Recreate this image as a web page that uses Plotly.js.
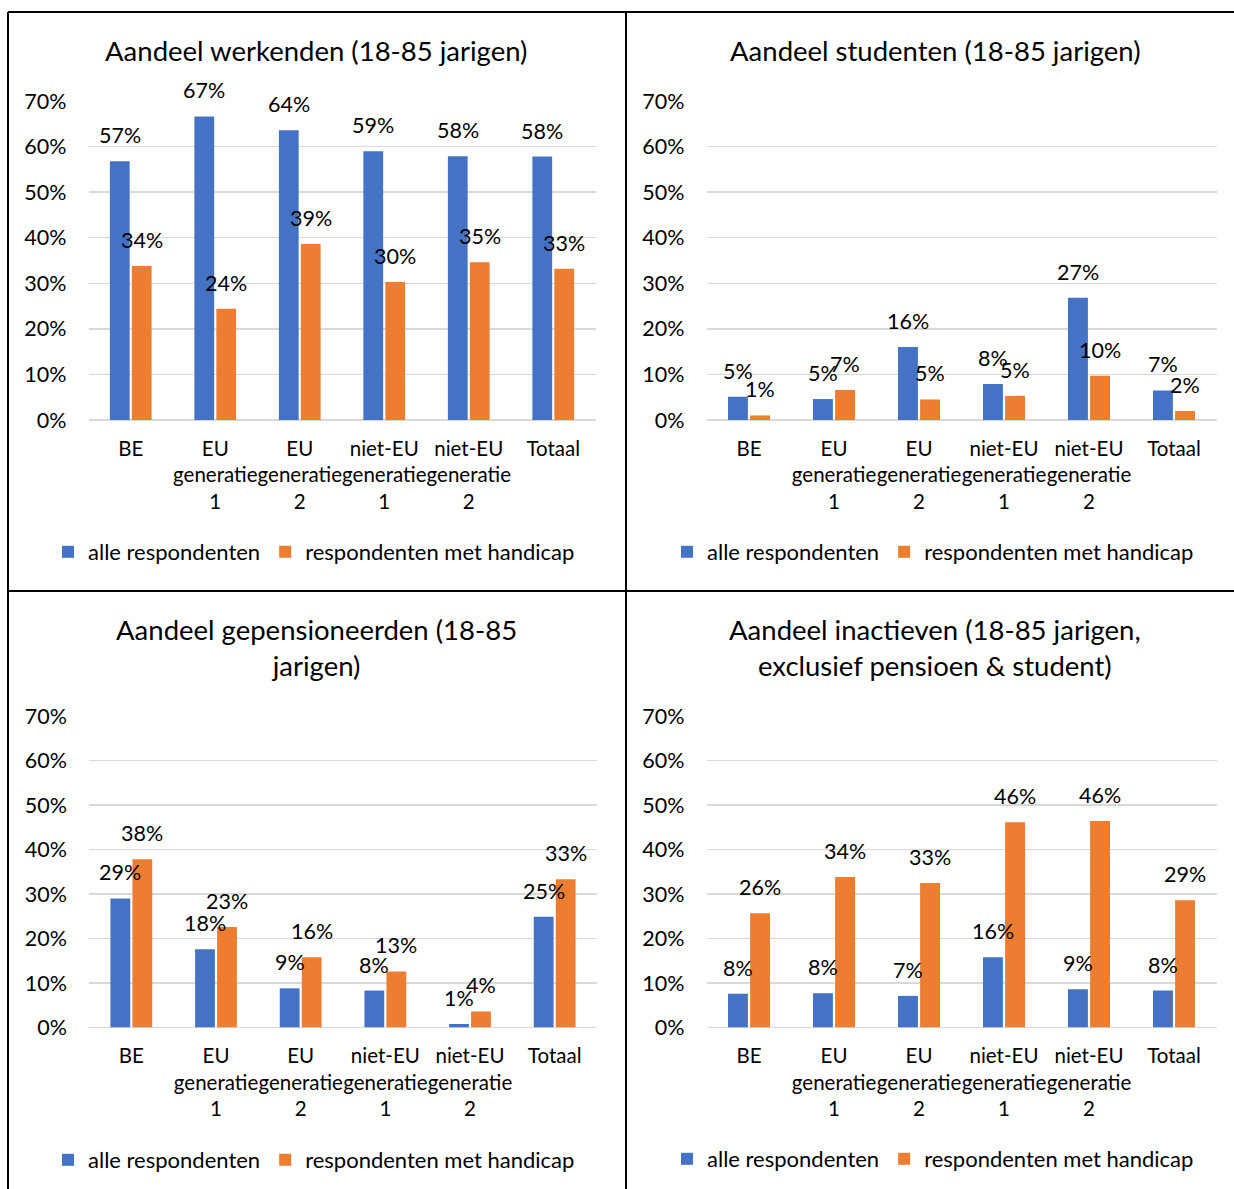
<!DOCTYPE html>
<html>
<head>
<meta charset="utf-8">
<script src="https://cdn.plot.ly/plotly-3.0.1.min.js"></script>
<style>
  html, body { margin: 0; padding: 0; background: #fff; }
  #chart { width: 1234px; height: 1189px; }
</style>
</head>
<body>
<div id="chart"></div>
<script>
// ---- data ----
const categories = ['BE', 'EU<br>generatie<br>1', 'EU<br>generatie<br>2', 'niet-EU<br>generatie<br>1', 'niet-EU<br>generatie<br>2', 'Totaal'];
const seriesNames = ['alle respondenten', 'respondenten met handicap'];
const yTickVals = [0, 0.1, 0.2, 0.3, 0.4, 0.5, 0.6, 0.7];

const werkenden_alle = [0.568, 0.666, 0.636, 0.590, 0.579, 0.578];
const werkenden_handicap = [0.338, 0.244, 0.386, 0.303, 0.346, 0.332];
const studenten_alle = [0.051, 0.046, 0.160, 0.079, 0.268, 0.065];
const studenten_handicap = [0.010, 0.066, 0.045, 0.053, 0.097, 0.020];
const gepensioneerden_alle = [0.290, 0.176, 0.088, 0.083, 0.008, 0.249];
const gepensioneerden_handicap = [0.378, 0.226, 0.158, 0.126, 0.036, 0.333];
const inactieven_alle = [0.076, 0.077, 0.071, 0.158, 0.086, 0.083];
const inactieven_handicap = [0.257, 0.338, 0.325, 0.461, 0.464, 0.286];

const titles = [
  'Aandeel werkenden (18-85 jarigen)',
  'Aandeel studenten (18-85 jarigen)',
  'Aandeel gepensioneerden (18-85<br>jarigen)',
  'Aandeel inactieven (18-85 jarigen,<br>exclusief pensioen &amp; student)'
];

// ---- layout helpers ----
const W = 1234, H = 1189;
const px = v => v / W;
const py = v => 1 - v / H;
const FONT = 'Lato, "Liberation Sans", sans-serif';
const colors = ['#4472C4', '#ED7D31'];

const panels = [
  { a: werkenden_alle, b: werkenden_handicap, x0: 88.5, x1: 595.5, yTop: 101, yBot: 420, title: titles[0], tx: 316, ty: 50, lx: 48, ly: 552 },
  { a: studenten_alle, b: studenten_handicap, x0: 706.5, x1: 1216.5, yTop: 101, yBot: 420, title: titles[1], tx: 935, ty: 50, lx: 667, ly: 552 },
  { a: gepensioneerden_alle, b: gepensioneerden_handicap, x0: 89, x1: 597, yTop: 716, yBot: 1027.5, title: titles[2], tx: 316, ty: 647, lx: 48, ly: 1160 },
  { a: inactieven_alle, b: inactieven_handicap, x0: 706.5, x1: 1216.5, yTop: 716, yBot: 1027.5, title: titles[3], tx: 935, ty: 647, lx: 667, ly: 1159 }
];

const traces = [];
const annotations = [];
const layout = {
  width: W, height: H,
  margin: { l: 0, r: 0, t: 0, b: 0 },
  paper_bgcolor: '#ffffff',
  plot_bgcolor: '#ffffff',
  font: { family: FONT, color: '#000000', size: 20 },
  barmode: 'group',
  bargap: 0.48,
  bargroupgap: 0.1,
  showlegend: true,
  shapes: [],
  annotations: annotations
};

const offset = 0.13;
panels.forEach((p, k) => {
  const n = k + 1;
  const xa = n === 1 ? 'x' : 'x' + n;
  const ya = n === 1 ? 'y' : 'y' + n;
  const lg = n === 1 ? 'legend' : 'legend' + n;
  [p.a, p.b].forEach((vals, s) => {
    traces.push({
      type: 'bar',
      x: categories,
      y: vals,
      name: seriesNames[s],
      marker: { color: colors[s] },
      xaxis: xa, yaxis: ya,
      legend: lg,
      hoverinfo: 'skip'
    });
    vals.forEach((v, i) => {
      annotations.push({
        xref: xa, yref: ya,
        x: i + (s === 0 ? -offset : offset),
        y: v,
        text: Math.round(v * 100) + '%',
        showarrow: false,
        yshift: 26,
        font: { family: FONT, size: 21.5, color: '#000' }
      });
    });
  });
  layout['xaxis' + (n === 1 ? '' : n)] = {
    domain: [px(p.x0), px(p.x1)],
    anchor: ya,
    type: 'category',
    tickangle: 0,
    showgrid: false,
    showline: false,
    zeroline: false,
    ticks: '',
    tickfont: { family: FONT, size: 20.5, color: '#000' },
    ticklabelstandoff: 14,
    fixedrange: true
  };
  layout['yaxis' + (n === 1 ? '' : n)] = {
    domain: [py(p.yBot), py(p.yTop)],
    anchor: xa,
    range: [0, 0.7],
    tickvals: yTickVals,
    tickformat: '.0%',
    showgrid: true,
    gridcolor: '#D9D9D9',
    gridwidth: 1.3,
    zeroline: true,
    zerolinecolor: '#D9D9D9',
    zerolinewidth: 1.3,
    showline: false,
    ticks: '',
    tickfont: { family: FONT, size: 21.5, color: '#000' },
    ticklabelstandoff: 21,
    fixedrange: true
  };
  layout[lg] = {
    orientation: 'h',
    x: px(p.lx), xanchor: 'left',
    y: py(p.ly), yanchor: 'middle',
    font: { family: FONT, size: 22, color: '#000' },
    bgcolor: 'rgba(0,0,0,0)',
    itemclick: false, itemdoubleclick: false,
    traceorder: 'normal'
  };
  annotations.push({
    xref: 'paper', yref: 'paper',
    x: px(p.tx), y: py(p.ty),
    xanchor: 'center', yanchor: 'middle',
    text: p.title,
    showarrow: false,
    font: { family: FONT, size: 27.5, color: '#000' }
  });
});

// table borders
const line = { color: '#000000', width: 2 };
layout.shapes.push(
  { type: 'line', xref: 'paper', yref: 'paper', x0: px(8), x1: px(1234), y0: py(12), y1: py(12), line: line },
  { type: 'line', xref: 'paper', yref: 'paper', x0: px(8), x1: px(1234), y0: py(591), y1: py(591), line: line },
  { type: 'line', xref: 'paper', yref: 'paper', x0: px(8), x1: px(8), y0: py(12), y1: py(1189), line: line },
  { type: 'line', xref: 'paper', yref: 'paper', x0: px(626), x1: px(626), y0: py(12), y1: py(1189), line: line }
);

Plotly.newPlot('chart', traces, layout, { displayModeBar: false, staticPlot: true });
</script>
</body>
</html>
